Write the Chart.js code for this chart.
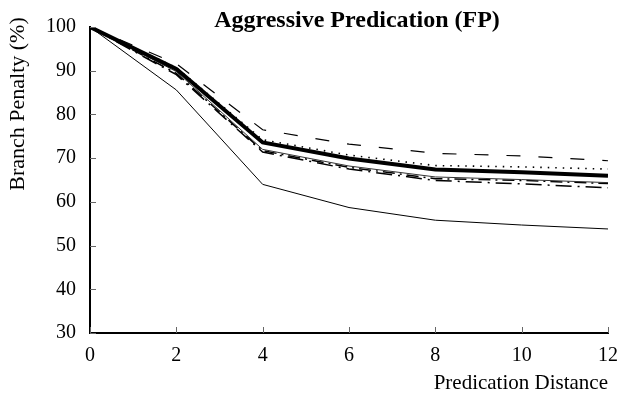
<!DOCTYPE html>
<html lang="en">
<head>
    <meta charset="UTF-8">
    <title>Aggressive Predication (FP)</title>
    <style>
        body {
            margin: 0;
            padding: 0;
            background: #fff;
        }
        #wrap {
            width: 621px;
            height: 396px;
        }
    </style>
    <script src="https://cdn.jsdelivr.net/npm/chart.js"></script>
</head>
<body>
    <div id="wrap"><canvas id="penaltyChart"></canvas></div>

    <script>
    const distances = [0, 2, 4, 6, 8, 10, 12];
    const yTicks = [30, 40, 50, 60, 70, 80, 90, 100];
    const xTicks = [0, 2, 4, 6, 8, 10, 12];

    const thinSolid = [100, 85.6, 64.0, 58.7, 55.8, 54.7, 53.8];
    const longDash = [100, 91.6, 76.5, 73.2, 71.1, 70.5, 69.4];
    const dotted = [100, 90.7, 74.2, 70.7, 68.3, 68.0, 67.5];
    const thickSolid = [100, 90.4, 73.6, 69.9, 67.4, 66.8, 66.0];
    const greySolid = [100, 89.8, 72.0, 68.2, 65.7, 65.1, 64.4];
    const dashDotA = [100, 89.4, 71.7, 67.9, 65.3, 64.9, 64.2];
    const dashDotB = [100, 89.1, 71.4, 67.5, 64.9, 64.1, 63.2];

    const serif = "'Liberation Serif', 'DejaVu Serif', serif";

    function series(values, width, dash, color) {
        return {
            data: distances.map((d, i) => ({ x: d, y: values[i] })),
            borderColor: color || "#000",
            borderWidth: width,
            borderDash: dash,
            pointRadius: 0,
            fill: false,
            tension: 0
        };
    }

    // inside tick marks, plus title texts
    const extras = {
        id: "extras",
        afterDraw(chart) {
            const ctx = chart.ctx;
            const xs = chart.scales.x;
            const ys = chart.scales.y;
            const area = chart.chartArea;
            ctx.save();
            ctx.strokeStyle = "#666";
            ctx.lineWidth = 1;
            ctx.beginPath();
            yTicks.forEach(v => {
                const py = Math.round(ys.getPixelForValue(v)) + 0.5;
                ctx.moveTo(area.left, py);
                ctx.lineTo(area.left + 6, py);
            });
            xTicks.forEach(v => {
                const px = Math.round(xs.getPixelForValue(v)) + 0.5;
                ctx.moveTo(px, area.bottom);
                ctx.lineTo(px, area.bottom - 6);
            });
            ctx.stroke();

            ctx.fillStyle = "#000";
            ctx.font = "bold 24px " + serif;
            ctx.textAlign = "center";
            ctx.textBaseline = "alphabetic";
            ctx.fillText("Aggressive Predication (FP)", 357, 27);

            ctx.font = "22px " + serif;
            ctx.textBaseline = "middle";
            ctx.translate(18, 104);
            ctx.rotate(-Math.PI / 2);
            ctx.fillText("Branch Penalty (%)", 0, 0);
            ctx.restore();
        }
    };

    new Chart(document.getElementById("penaltyChart"), {
        type: "line",
        data: {
            datasets: [
                series(thinSolid, 1, []),
                series(longDash, 1.2, [14, 18]),
                series(dotted, 1.6, [1.5, 6]),
                series(thickSolid, 4, []),
                series(greySolid, 1, [], "#333"),
                series(dashDotA, 1.5, [12, 5, 2, 5]),
                series(dashDotB, 1.5, [16, 6, 2, 6])
            ]
        },
        options: {
            responsive: true,
            maintainAspectRatio: false,
            animation: false,
            layout: {
                padding: { left: 0, right: 12, top: 27, bottom: 0 }
            },
            plugins: {
                legend: { display: false },
                tooltip: { enabled: false }
            },
            scales: {
                x: {
                    type: "linear",
                    min: 0,
                    max: 12,
                    afterBuildTicks: s => { s.ticks = xTicks.map(v => ({ value: v })); },
                    afterFit: s => { s.height = 63; },
                    grid: { display: false },
                    border: { display: true, color: "#000", width: 2 },
                    ticks: {
                        color: "#000",
                        padding: 3,
                        maxRotation: 0,
                        font: { family: serif, size: 20 }
                    },
                    title: {
                        display: true,
                        text: "Predication Distance",
                        align: "end",
                        color: "#000",
                        padding: { top: 0, bottom: 0 },
                        font: { family: serif, size: 21 }
                    }
                },
                y: {
                    min: 30,
                    max: 100,
                    afterBuildTicks: s => { s.ticks = yTicks.map(v => ({ value: v })); },
                    afterFit: s => { s.width = 90; },
                    grid: { display: false },
                    border: { display: true, color: "#000", width: 2 },
                    ticks: {
                        color: "#000",
                        padding: 6,
                        font: { family: serif, size: 20 }
                    }
                }
            }
        },
        plugins: [extras]
    });
    </script>
</body>
</html>
